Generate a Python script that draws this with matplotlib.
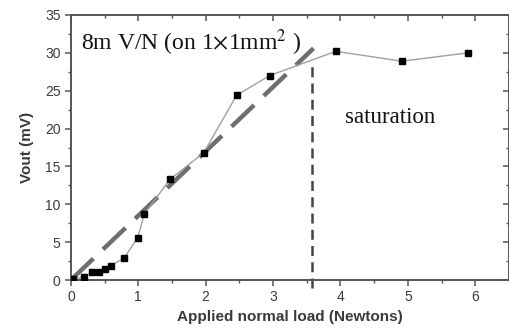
import matplotlib
matplotlib.use("Agg")
import matplotlib.pyplot as plt
from matplotlib.ticker import MultipleLocator

load = [0.03, 0.2, 0.31, 0.41, 0.5, 0.59, 0.79, 0.99, 1.09, 1.47, 1.97, 2.46, 2.95, 3.93, 4.91, 5.89]
vout = [0.1, 0.45, 1.1, 1.1, 1.4, 1.9, 2.9, 5.6, 8.7, 13.3, 16.8, 24.4, 27.0, 30.2, 28.9, 30.0]
fit_x = [0.0, 3.6]
fit_y = [0.0, 30.6]
sat_x = 3.58
sat_y = [-1.0, 28.8]

plt.rcParams['mathtext.fontset'] = 'stix'

fig = plt.figure(figsize=(5.1, 3.33), dpi=100)
ax = fig.add_axes([0.139, 0.159, 0.859, 0.796])

ax.plot(fit_x, fit_y, color='#6e6e6e', lw=3.2, dashes=(7, 3), solid_capstyle='butt', zorder=2)
ax.plot(load, vout, color='#a0a0a0', lw=1.0, marker='s', ms=4.2, mfc='black', mec='black', zorder=3)
ax.plot([sat_x, sat_x], sat_y, color='#444444', lw=1.8, dashes=(4, 2.5), clip_on=False, zorder=2)

ax.set_xlim(0, 6.5)
ax.set_ylim(0, 35)
ax.xaxis.set_major_locator(MultipleLocator(1))
ax.xaxis.set_minor_locator(MultipleLocator(0.5))
ax.yaxis.set_major_locator(MultipleLocator(5))
ax.yaxis.set_minor_locator(MultipleLocator(2.5))

for s in ax.spines.values():
    s.set_color('#555555')
    s.set_linewidth(1.4)

ax.tick_params(which='major', direction='out', length=4, width=1.1, color='#555555', labelsize=10, labelcolor='#3a3a3a')
ax.tick_params(which='minor', direction='out', length=2.5, width=1.0, color='#555555')
for lab in ax.get_xticklabels() + ax.get_yticklabels():
    lab.set_fontfamily('Liberation Sans')

top = ax.secondary_xaxis('top')
top.xaxis.set_major_locator(MultipleLocator(1))
top.xaxis.set_minor_locator(MultipleLocator(0.5))
top.tick_params(which='major', direction='in', length=4, width=1.1, color='#555555', labeltop=False)
top.tick_params(which='minor', direction='in', length=2.5, width=1.0, color='#555555')
right = ax.secondary_yaxis('right')
right.yaxis.set_major_locator(MultipleLocator(5))
right.yaxis.set_minor_locator(MultipleLocator(2.5))
right.tick_params(which='major', direction='in', length=4, width=1.1, color='#555555', labelright=False)
right.tick_params(which='minor', direction='in', length=2.5, width=1.0, color='#555555')
for sa in (top, right):
    for s in sa.spines.values():
        s.set_visible(False)

ax.set_xlabel('Applied normal load (Newtons)', fontfamily='Liberation Sans', fontsize=11,
              fontweight='bold', color='#3a3a3a', labelpad=4)
ax.set_ylabel('Vout (mV)', fontfamily='Liberation Sans', fontsize=11,
              fontweight='bold', color='#3a3a3a', labelpad=8)

ax.text(0.15, 31.4, r'8m V/N (on 1$\times$1mm$^{\mathrm{2}}$ )', fontfamily='Liberation Serif', fontsize=17,
        color='#111111', va='center', ha='left')
ax.text(4.07, 21.4, 'saturation', fontfamily='Liberation Serif', fontsize=16.5,
        color='#111111', va='center', ha='left')

fig.savefig('out.png', dpi=100)
